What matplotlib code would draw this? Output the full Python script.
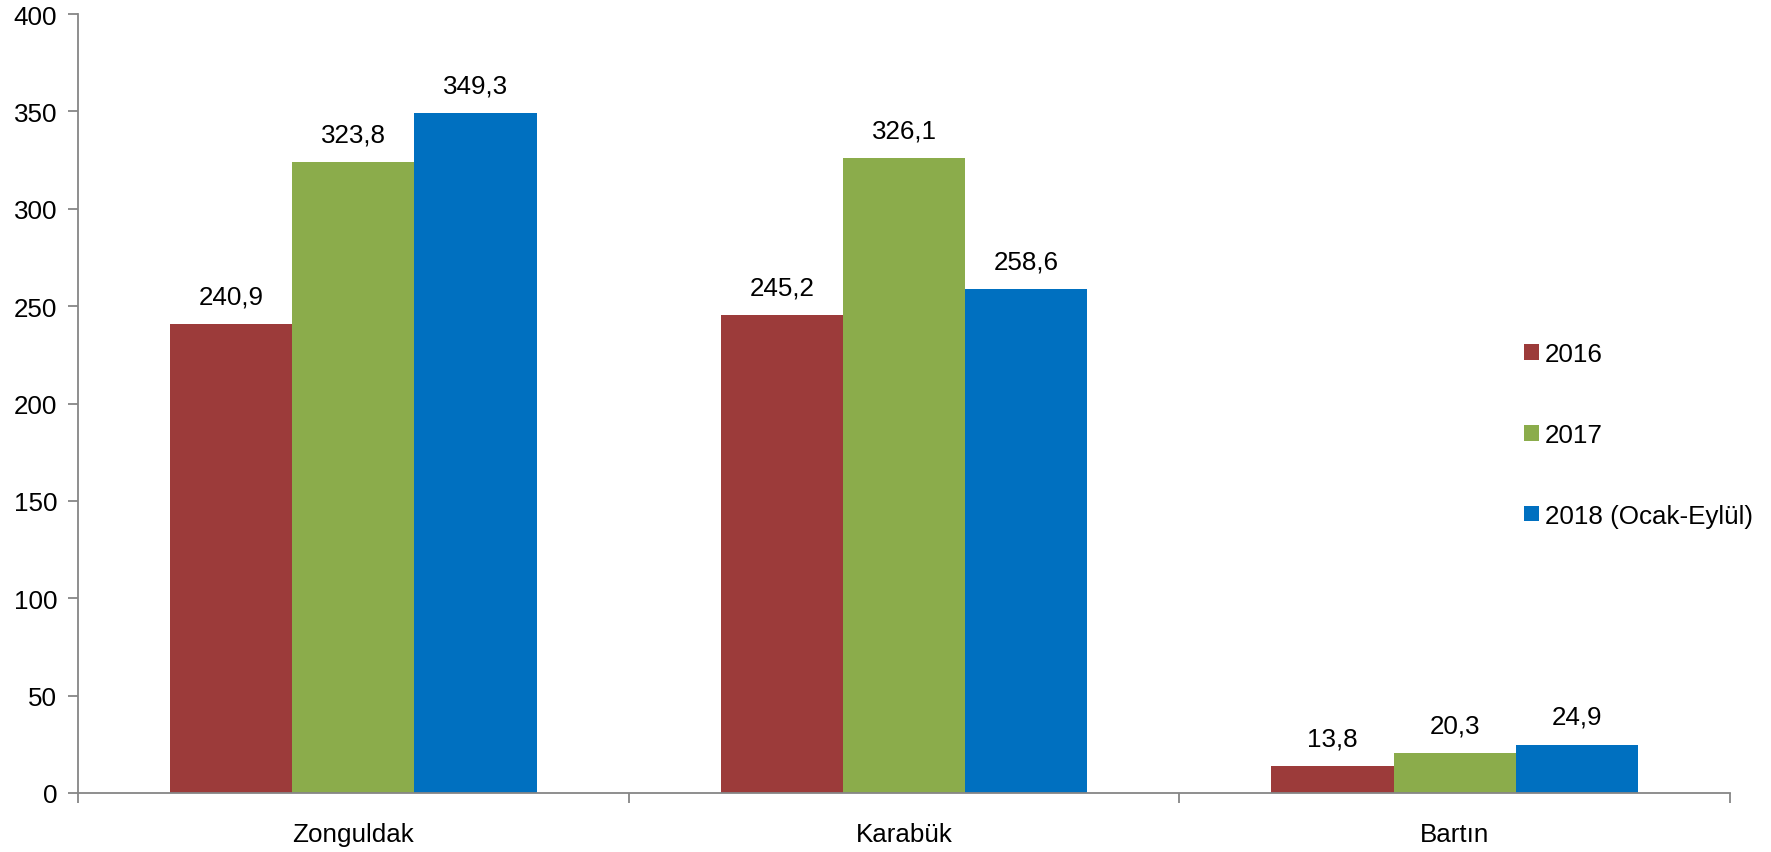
import numpy as np
import matplotlib.pyplot as plt

plt.rcParams['font.family'] = ['Liberation Sans', 'DejaVu Sans']

categories = ["Zonguldak", "Karabük", "Bartın"]
series_names = ["2016", "2017", "2018 (Ocak-Eylül)"]
v2016 = [240.9, 245.2, 13.8]
v2017 = [323.8, 326.1, 20.3]
v2018 = [349.3, 258.6, 24.9]
colors = ["#9C3B3A", "#8BAC4B", "#0070C0"]

fig = plt.figure(figsize=(17.71, 8.53), dpi=100)
ax = fig.add_axes([78 / 1771, 1 - 794 / 853, (1730 - 78) / 1771, (794 - 15) / 853])

x = np.arange(len(categories))
w = 0.222
for i, (vals, name, c) in enumerate(zip([v2016, v2017, v2018], series_names, colors)):
    pos = x + (i - 1) * w
    ax.bar(pos, vals, width=w, color=c, label=name, zorder=2)
    for p, v in zip(pos, vals):
        ax.text(p, v + 8, f"{v:.1f}".replace(".", ","), ha="center", va="bottom", fontsize=18.7)

ax.set_xlim(-0.5, len(categories) - 0.5)
ax.set_ylim(0, 400)
ax.set_yticks(range(0, 401, 50))
ax.tick_params(axis="y", labelsize=18.7, length=7, width=1.3, color="#868686", pad=8)
ax.set_xticks(np.arange(-0.5, len(categories), 1.0), minor=False)
ax.set_xticklabels([])
ax.set_xticks(x, minor=True)
ax.set_xticklabels(categories, minor=True, fontsize=18.7)
ax.tick_params(axis="x", which="major", length=7, width=1.3, color="#868686")
ax.tick_params(axis="x", which="minor", length=0, pad=21)

for s in ["top", "right"]:
    ax.spines[s].set_visible(False)
for s in ["left", "bottom"]:
    ax.spines[s].set_color("#868686")
    ax.spines[s].set_linewidth(1.3)

ax.legend(loc="upper left", bbox_to_anchor=(1514 / 1771, 1 - 333 / 853), bbox_transform=fig.transFigure,
          frameon=False, fontsize=18.7, handlelength=0.55, handleheight=0.55, handletextpad=0.25,
          labelspacing=2.18, borderaxespad=0)

fig.savefig("out.png", dpi=100)
